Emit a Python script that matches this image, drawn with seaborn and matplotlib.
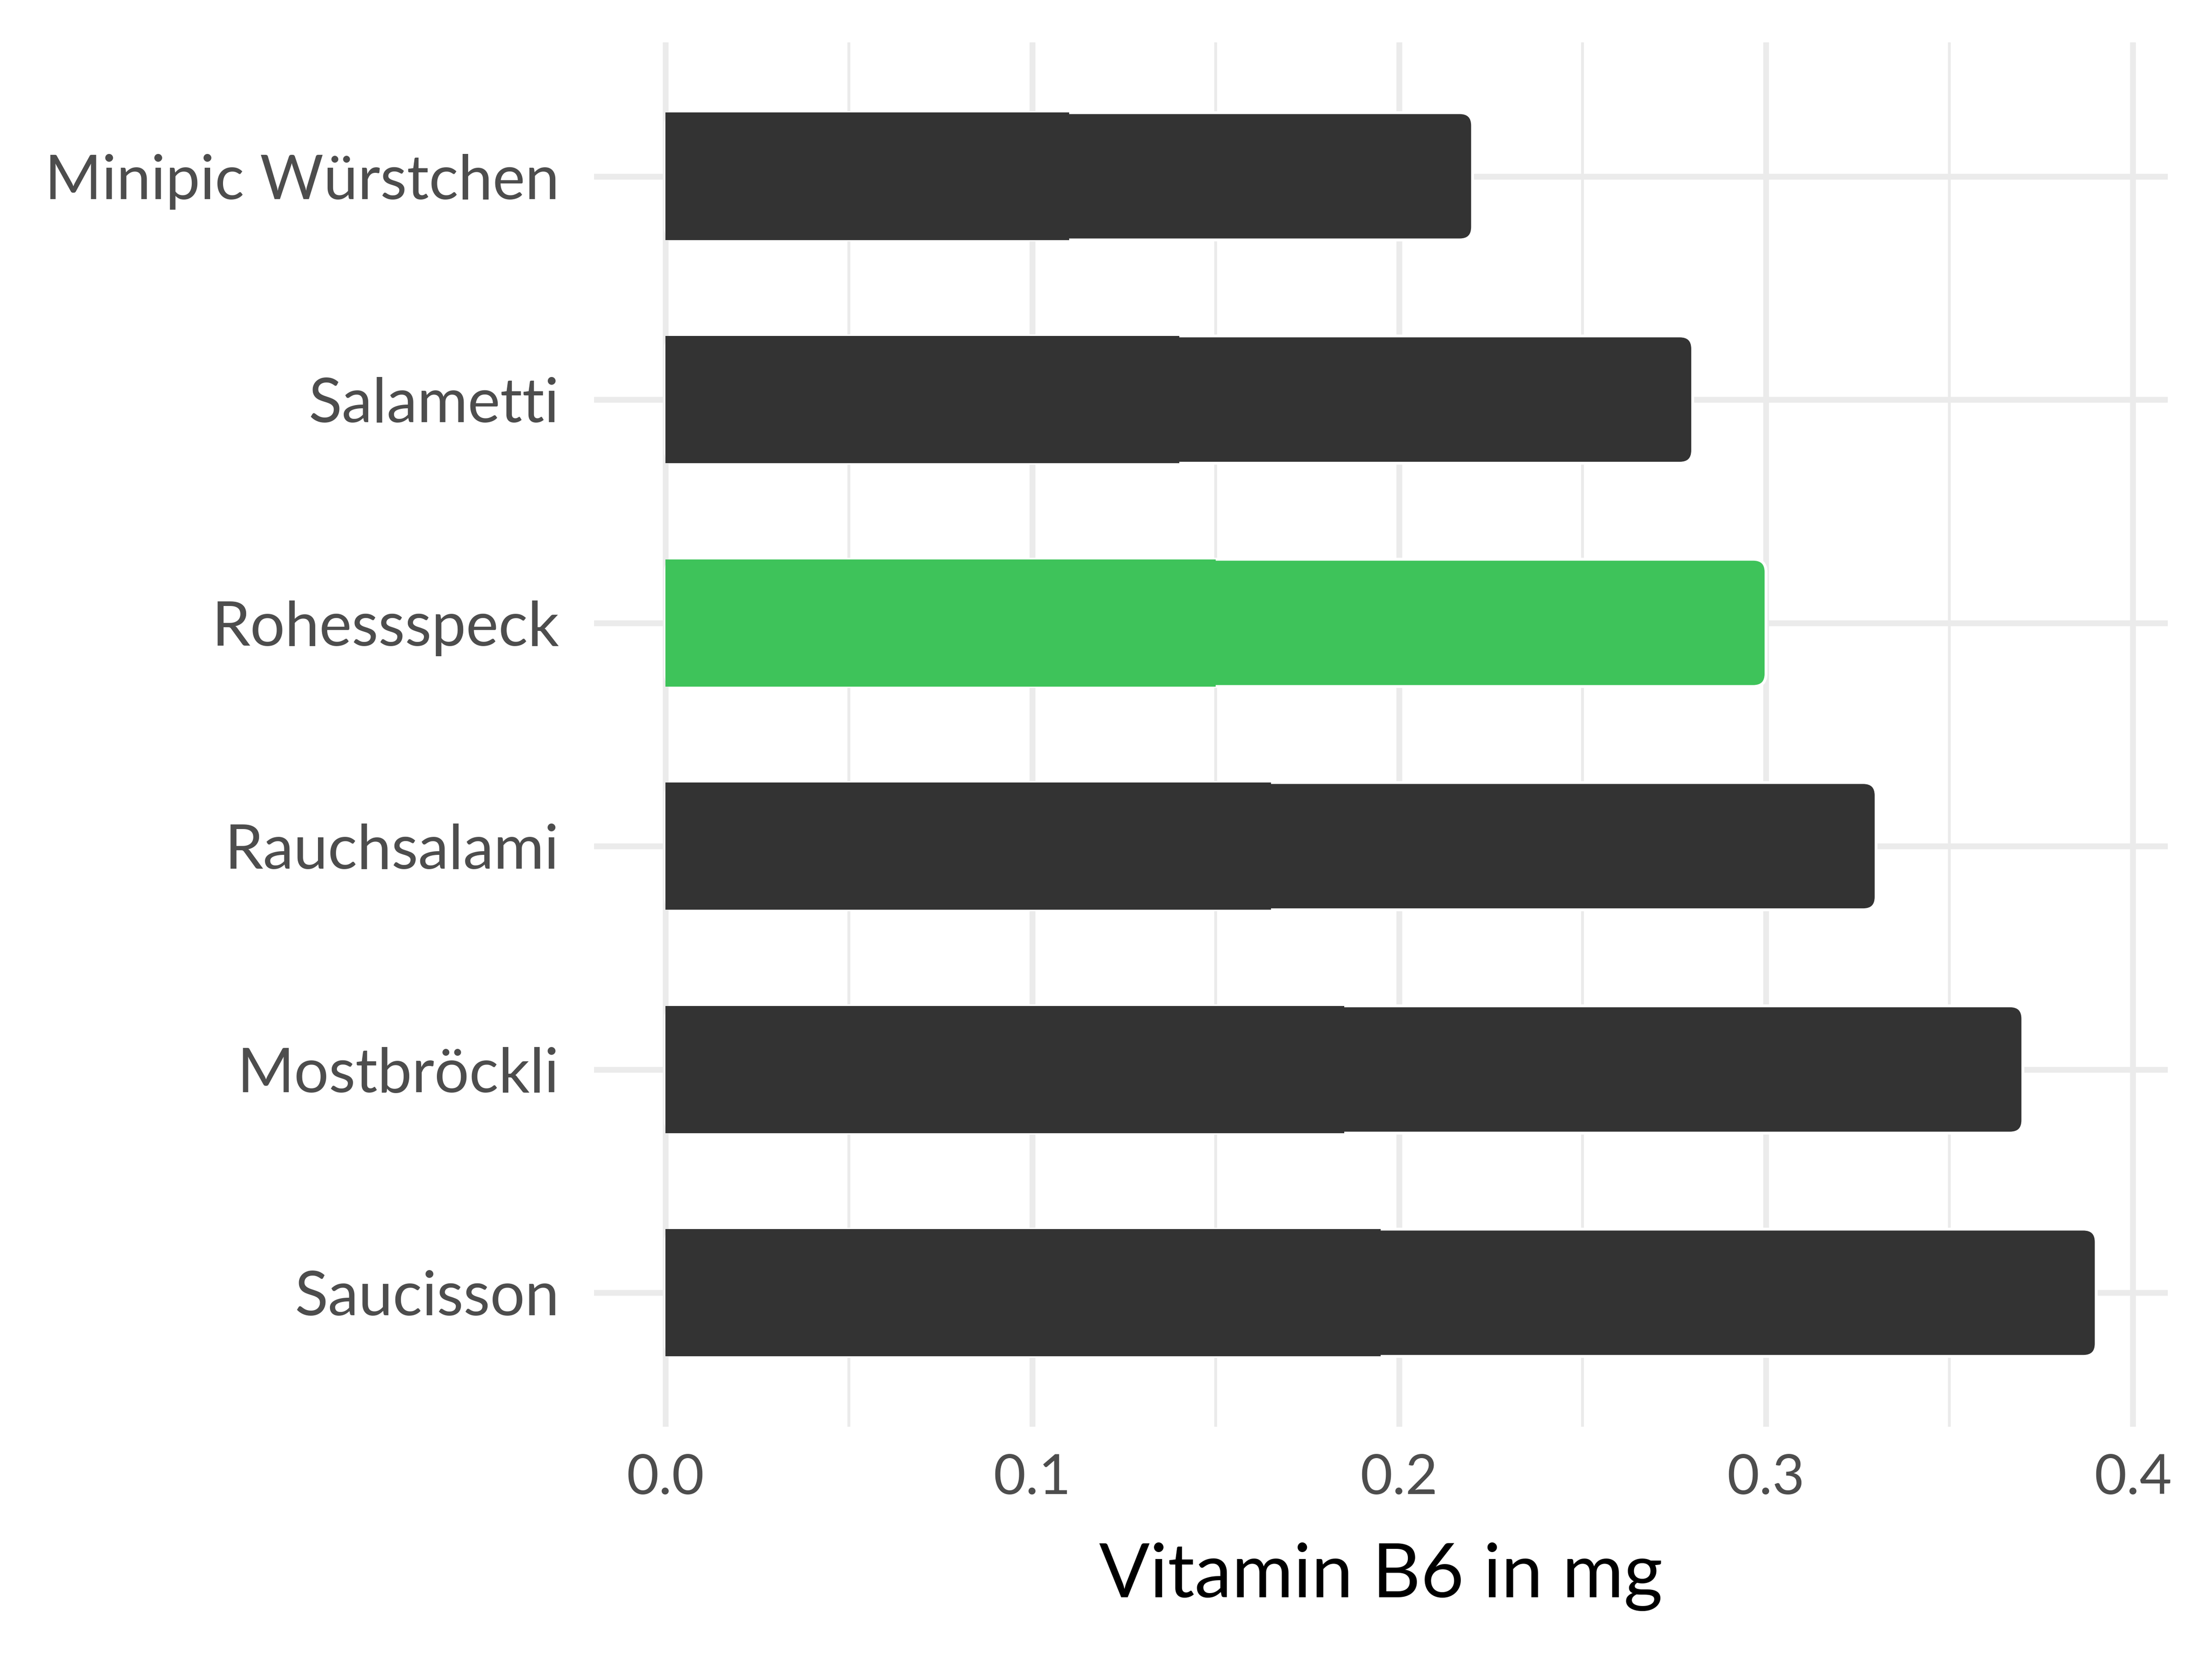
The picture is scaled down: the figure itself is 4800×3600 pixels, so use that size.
import matplotlib
matplotlib.use("Agg")
import matplotlib.pyplot as plt
import seaborn as sns
import pandas as pd
from matplotlib.patches import FancyBboxPatch
from matplotlib.ticker import MultipleLocator

foods = ["Minipic Würstchen", "Salametti", "Rohessspeck", "Rauchsalami", "Mostbröckli", "Saucisson"]
values = [0.22, 0.28, 0.30, 0.33, 0.37, 0.39]
highlight = "Rohessspeck"
xticks = [0.0, 0.1, 0.2, 0.3, 0.4]
xtick_labels = ["0.0", "0.1", "0.2", "0.3", "0.4"]
x_title = "Vitamin B6 in mg"

sns.set_theme(style="white")
plt.rcParams["font.family"] = ["Lato", "DejaVu Sans"]

df = pd.DataFrame({"food": foods, "value": values})
palette = {f: ("#3EC35A" if f == highlight else "#333333") for f in foods}

fig = plt.figure(figsize=(16, 12), dpi=300)
ax = fig.add_axes([0.2685, 0.140, 0.9800 - 0.2685, 0.9745 - 0.140])

sns.barplot(data=df, x="value", y="food", hue="food", palette=palette, order=foods,
            width=0.57, legend=False, ax=ax, zorder=3, saturation=1)

xmin, xmax = -0.0195, 0.4095
ax.set_xlim(xmin, xmax)
ax.set_ylim(len(foods) - 0.4, -0.6)
bbox = ax.get_position()
w_in = bbox.width * 16
h_in = bbox.height * 12
aspect = (w_in / (xmax - xmin)) / (h_in / (len(foods) + 0.2))
patches = list(ax.patches)
for p in patches:
    x, y = p.get_x(), p.get_y()
    w, h = p.get_width(), p.get_height()
    fc = p.get_facecolor()
    p.remove()
    r = 0.0035
    fb = FancyBboxPatch((x, y), w, h, boxstyle=f"round,pad=0,rounding_size={r}",
                        mutation_aspect=aspect, facecolor=fc, edgecolor="white",
                        linewidth=1.5, zorder=3)
    ax.add_patch(fb)
    # square off the left end (ggplot bars start flat at zero)
    ax.add_patch(plt.Rectangle((x, y), w / 2, h, facecolor=fc, edgecolor="none", zorder=3.1))

ax.set_xticks(xticks)
ax.set_xticklabels(xtick_labels)
ax.xaxis.set_minor_locator(MultipleLocator(0.05))
ax.grid(True, which="major", axis="both", color="#EBEBEB", linewidth=3.0, zorder=0)
ax.grid(True, which="minor", axis="x", color="#EBEBEB", linewidth=1.5, zorder=0)
ax.set_axisbelow(True)
for s in ax.spines.values():
    s.set_visible(False)
ax.tick_params(axis="both", which="both", length=0)
ax.tick_params(axis="y", labelsize=32, labelcolor="#4D4D4D", pad=18)
ax.tick_params(axis="x", labelsize=29, labelcolor="#4D4D4D", pad=14)
ax.set_ylabel("")
ax.set_xlabel(x_title, fontsize=39, color="black", labelpad=20)

fig.savefig("out.png", dpi=300, facecolor="white")
